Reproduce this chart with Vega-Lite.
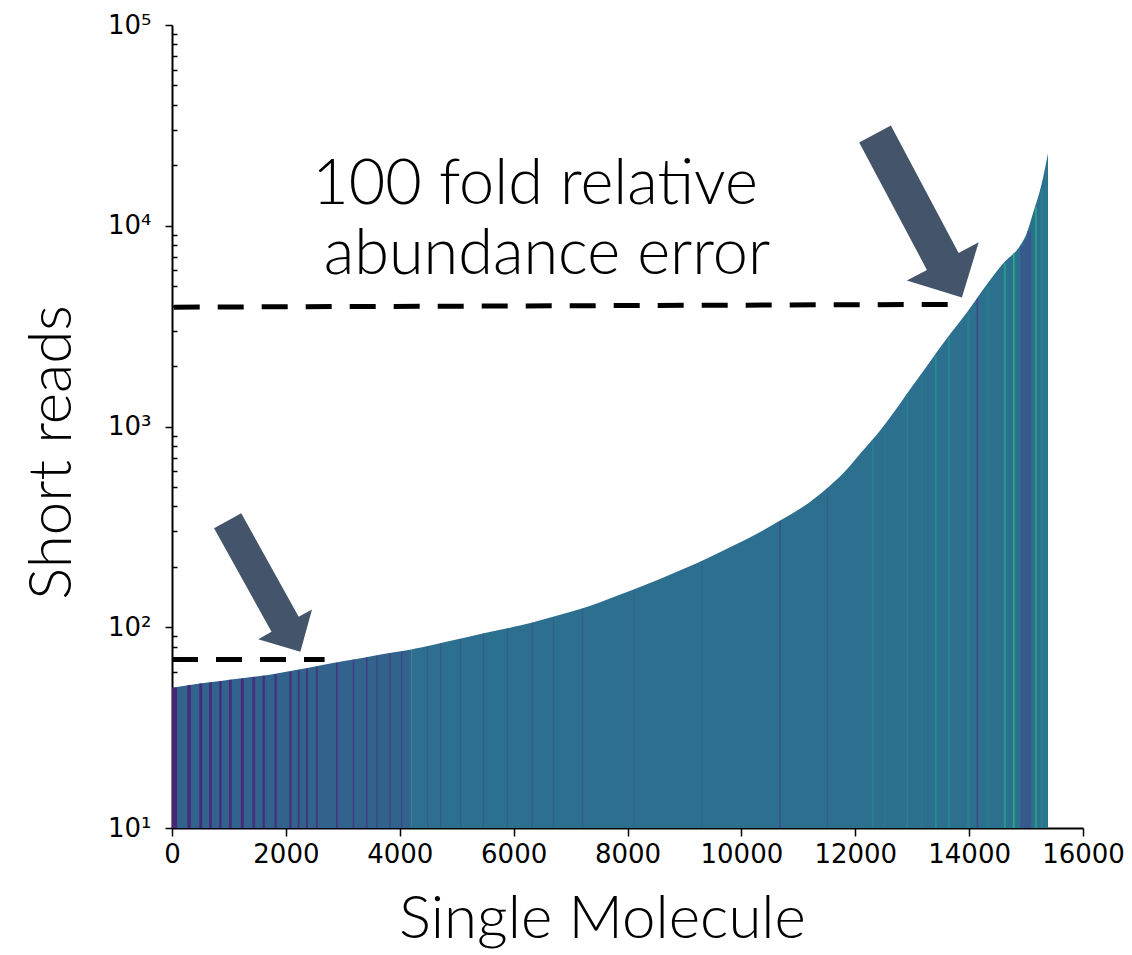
{
  "$schema": "https://vega.github.io/schema/vega-lite/v6.json",
  "width": 911,
  "height": 803,
  "autosize": {"type": "none"},
  "padding": {"left": 172, "top": 25, "right": 49, "bottom": 127},
  "background": "white",
  "config": {
    "view": {"stroke": null},
    "axis": {"grid": false, "domainColor": "black", "tickColor": "black", "labelColor": "black", "titleColor": "black"}
  },
  "datasets": {
    "env": [
      {"seg": "L", "x": 0, "reads": 50},
      {"seg": "L", "x": 400, "reads": 52},
      {"seg": "L", "x": 850, "reads": 54},
      {"seg": "L", "x": 1300, "reads": 56},
      {"seg": "L", "x": 1720, "reads": 58},
      {"seg": "L", "x": 2150, "reads": 61},
      {"seg": "L", "x": 2600, "reads": 64.5},
      {"seg": "L", "x": 3050, "reads": 68},
      {"seg": "L", "x": 3480, "reads": 71.5},
      {"seg": "L", "x": 3900, "reads": 75},
      {"seg": "L", "x": 4200, "reads": 77.5},
      {"seg": "R", "x": 4200, "reads": 77.5},
      {"seg": "R", "x": 4350, "reads": 79},
      {"seg": "R", "x": 4800, "reads": 84.5},
      {"seg": "R", "x": 5230, "reads": 90},
      {"seg": "R", "x": 5680, "reads": 96},
      {"seg": "R", "x": 6110, "reads": 102},
      {"seg": "R", "x": 6550, "reads": 110},
      {"seg": "R", "x": 6990, "reads": 119},
      {"seg": "R", "x": 7350, "reads": 128},
      {"seg": "R", "x": 7690, "reads": 139},
      {"seg": "R", "x": 8130, "reads": 155},
      {"seg": "R", "x": 8570, "reads": 174},
      {"seg": "R", "x": 9000, "reads": 196},
      {"seg": "R", "x": 9450, "reads": 224},
      {"seg": "R", "x": 9900, "reads": 258},
      {"seg": "R", "x": 10330, "reads": 298},
      {"seg": "R", "x": 10680, "reads": 340},
      {"seg": "R", "x": 11200, "reads": 420},
      {"seg": "R", "x": 11550, "reads": 505},
      {"seg": "R", "x": 11850, "reads": 610},
      {"seg": "R", "x": 12100, "reads": 740},
      {"seg": "R", "x": 12430, "reads": 950},
      {"seg": "R", "x": 12700, "reads": 1200},
      {"seg": "R", "x": 13010, "reads": 1600},
      {"seg": "R", "x": 13300, "reads": 2080},
      {"seg": "R", "x": 13610, "reads": 2750},
      {"seg": "R", "x": 13960, "reads": 3700},
      {"seg": "R", "x": 14310, "reads": 5100},
      {"seg": "R", "x": 14600, "reads": 6500},
      {"seg": "R", "x": 14900, "reads": 8000},
      {"seg": "R", "x": 15000, "reads": 9000},
      {"seg": "R", "x": 15120, "reads": 11500},
      {"seg": "R", "x": 15270, "reads": 16000},
      {"seg": "R", "x": 15385, "reads": 23000}
    ],
    "stripes": [
      {"x0": 0, "x1": 90, "top": 50, "c": 0.1},
      {"x0": 270, "x1": 330, "top": 51.5, "c": 0.12},
      {"x0": 480, "x1": 530, "top": 52.5, "c": 0.12},
      {"x0": 650, "x1": 700, "top": 53, "c": 0.13},
      {"x0": 830, "x1": 870, "top": 54, "c": 0.12},
      {"x0": 1000, "x1": 1050, "top": 54.7, "c": 0.13},
      {"x0": 1210, "x1": 1260, "top": 55.5, "c": 0.12},
      {"x0": 1410, "x1": 1460, "top": 56.5, "c": 0.14},
      {"x0": 1590, "x1": 1630, "top": 57.3, "c": 0.13},
      {"x0": 1800, "x1": 1840, "top": 58.3, "c": 0.14},
      {"x0": 2060, "x1": 2100, "top": 60, "c": 0.13},
      {"x0": 2210, "x1": 2240, "top": 61.2, "c": 0.15},
      {"x0": 2355, "x1": 2385, "top": 62.3, "c": 0.14},
      {"x0": 2530, "x1": 2560, "top": 63.8, "c": 0.15},
      {"x0": 2880, "x1": 2910, "top": 66.5, "c": 0.15},
      {"x0": 3175, "x1": 3200, "top": 69, "c": 0.16},
      {"x0": 3410, "x1": 3435, "top": 70.7, "c": 0.17},
      {"x0": 3590, "x1": 3610, "top": 72.2, "c": 0.17},
      {"x0": 3820, "x1": 3840, "top": 74, "c": 0.18},
      {"x0": 4025, "x1": 4045, "top": 76, "c": 0.2},
      {"x0": 4480, "x1": 4500, "top": 80.5, "c": 0.27},
      {"x0": 4710, "x1": 4730, "top": 83, "c": 0.27},
      {"x0": 5060, "x1": 5080, "top": 87.5, "c": 0.28},
      {"x0": 5460, "x1": 5480, "top": 93, "c": 0.28},
      {"x0": 5880, "x1": 5900, "top": 98.5, "c": 0.28},
      {"x0": 6320, "x1": 6340, "top": 105.5, "c": 0.29},
      {"x0": 6690, "x1": 6710, "top": 112.5, "c": 0.29},
      {"x0": 7200, "x1": 7220, "top": 123.5, "c": 0.3},
      {"x0": 8100, "x1": 8120, "top": 153, "c": 0.31},
      {"x0": 9300, "x1": 9320, "top": 213, "c": 0.31},
      {"x0": 10670, "x1": 10690, "top": 336, "c": 0.2},
      {"x0": 11500, "x1": 11520, "top": 490, "c": 0.3},
      {"x0": 12290, "x1": 12330, "top": 855, "c": 0.42},
      {"x0": 12500, "x1": 12540, "top": 1005, "c": 0.4},
      {"x0": 12900, "x1": 12930, "top": 1450, "c": 0.42},
      {"x0": 13150, "x1": 13180, "top": 1820, "c": 0.4},
      {"x0": 13400, "x1": 13430, "top": 2260, "c": 0.5},
      {"x0": 13630, "x1": 13660, "top": 2780, "c": 0.48},
      {"x0": 13960, "x1": 14010, "top": 3680, "c": 0.42},
      {"x0": 14130, "x1": 14160, "top": 4330, "c": 0.22},
      {"x0": 14300, "x1": 14360, "top": 5030, "c": 0.4},
      {"x0": 14610, "x1": 14645, "top": 6500, "c": 0.55},
      {"x0": 14770, "x1": 14800, "top": 7300, "c": 0.62},
      {"x0": 14900, "x1": 14960, "top": 7950, "c": 0.27},
      {"x0": 14960, "x1": 15020, "top": 8550, "c": 0.28},
      {"x0": 15020, "x1": 15090, "top": 9350, "c": 0.27},
      {"x0": 15160, "x1": 15190, "top": 12400, "c": 0.6},
      {"x0": 15250, "x1": 15310, "top": 15200, "c": 0.42},
      {"x0": 15330, "x1": 15370, "top": 19000, "c": 0.4}
    ],
    "lines": [
      {"x0": 30, "x1": 13930, "y0": 3930, "y1": 4060},
      {"x0": 0, "x1": 2680, "y0": 69, "y1": 69}
    ],
    "texts": [
      {"x": 6375, "y": 12870, "label": "100 fold relative"},
      {"x": 6586, "y": 5770, "label": "abundance error"}
    ],
    "arrows": [
      {"name": "big", "x": 13110, "y": 11220},
      {"name": "small", "x": 1616, "y": 160}
    ]
  },
  "layer": [
    {
      "data": {"name": "env"},
      "transform": [{"filter": "datum.seg == 'L'"}],
      "mark": {"type": "area", "color": "#31638d", "interpolate": "monotone"},
      "encoding": {
        "x": {
          "field": "x", "type": "quantitative",
          "scale": {"domain": [0, 16000], "nice": false, "zero": false},
          "axis": {
            "title": "Single Molecule",
            "values": [0, 2000, 4000, 6000, 8000, 10000, 12000, 14000, 16000],
            "format": "d",
            "labelFont": "DejaVu Sans", "labelFontSize": 26, "labelPadding": 5, "labelFlush": false,
            "tickSize": 8, "tickWidth": 1.5, "domainWidth": 2,
            "titleFont": "Lato", "titleFontSize": 60, "titleFontWeight": 300,
            "titleX": 430, "titleY": 109, "titleBaseline": "alphabetic", "titleAlign": "center"
          }
        },
        "y": {
          "field": "reads", "type": "quantitative",
          "scale": {"type": "log", "domain": [10, 100000], "nice": false},
          "axis": {
            "title": "Short reads",
            "values": [10, 20, 30, 40, 50, 60, 70, 80, 90, 100, 200, 300, 400, 500, 600, 700, 800, 900, 1000, 2000, 3000, 4000, 5000, 6000, 7000, 8000, 9000, 10000, 20000, 30000, 40000, 50000, 60000, 70000, 80000, 90000, 100000],
            "labelExpr": "datum.value == 10 ? '10¹' : datum.value == 100 ? '10²' : datum.value == 1000 ? '10³' : datum.value == 10000 ? '10⁴' : datum.value == 100000 ? '10⁵' : ''",
            "labelOverlap": false, "labelFlush": false,
            "labelFont": "DejaVu Sans", "labelFontSize": 26, "labelPadding": 14,
            "tickSize": {"condition": {"test": "indexof([10,100,1000,10000,100000], datum.value) >= 0", "value": 7}, "value": -5},
            "tickWidth": 1.5, "domainWidth": 2,
            "titleFont": "Lato", "titleFontSize": 60, "titleFontWeight": 300,
            "titleAngle": 270, "titleX": -102, "titleY": 427, "titleBaseline": "alphabetic", "titleAlign": "center"
          }
        },
        "y2": {"datum": 10}
      }
    },
    {
      "data": {"name": "env"},
      "transform": [{"filter": "datum.seg == 'R'"}],
      "mark": {"type": "area", "color": "#2d6f8e", "interpolate": "monotone"},
      "encoding": {
        "x": {"field": "x", "type": "quantitative"},
        "y": {"field": "reads", "type": "quantitative"},
        "y2": {"datum": 10}
      }
    },
    {
      "data": {"name": "stripes"},
      "mark": {"type": "rect"},
      "encoding": {
        "x": {"field": "x0", "type": "quantitative"},
        "x2": {"field": "x1"},
        "y": {"field": "top", "type": "quantitative"},
        "y2": {"datum": 10},
        "color": {"field": "c", "type": "quantitative", "scale": {"scheme": "viridis", "domain": [0, 1]}, "legend": null}
      }
    },
    {
      "data": {"name": "lines"},
      "mark": {"type": "rule", "color": "black", "strokeWidth": 5, "strokeDash": [26, 18]},
      "encoding": {
        "x": {"field": "x0", "type": "quantitative"},
        "x2": {"field": "x1"},
        "y": {"field": "y0", "type": "quantitative"},
        "y2": {"field": "y1"}
      }
    },
    {
      "data": {"name": "texts"},
      "mark": {"type": "text", "font": "Lato", "fontSize": 63, "fontWeight": 300, "color": "black", "align": "center", "baseline": "alphabetic"},
      "encoding": {
        "x": {"field": "x", "type": "quantitative"},
        "y": {"field": "y", "type": "quantitative"},
        "text": {"field": "label"}
      }
    },
    {
      "data": {"name": "arrows"},
      "transform": [{"filter": "datum.name == 'big'"}],
      "mark": {"type": "point", "filled": true, "color": "#44546a", "opacity": 1, "strokeWidth": 0, "size": 34225, "angle": 332,
        "shape": "M -0.194 -1 L 0.194 -1 L 0.194 0.56 L 0.44 0.56 L 0 1 L -0.44 0.56 L -0.194 0.56 Z"},
      "encoding": {
        "x": {"field": "x", "type": "quantitative"},
        "y": {"field": "y", "type": "quantitative"}
      }
    },
    {
      "data": {"name": "arrows"},
      "transform": [{"filter": "datum.name == 'small'"}],
      "mark": {"type": "point", "filled": true, "color": "#44546a", "opacity": 1, "strokeWidth": 0, "size": 22500, "angle": 331,
        "shape": "M -0.207 -1 L 0.207 -1 L 0.207 0.58 L 0.41 0.58 L 0 1 L -0.41 0.58 L -0.207 0.58 Z"},
      "encoding": {
        "x": {"field": "x", "type": "quantitative"},
        "y": {"field": "y", "type": "quantitative"}
      }
    }
  ]
}
